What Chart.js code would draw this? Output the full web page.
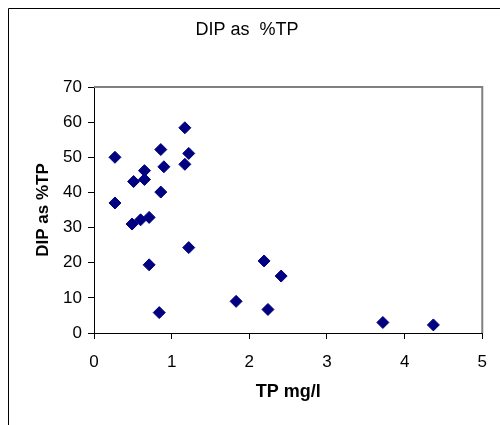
<!DOCTYPE html>
<html>
<head>
<meta charset="utf-8">
<script src="https://cdn.jsdelivr.net/npm/chart.js@4.4.1/dist/chart.umd.min.js"></script>
<style>
  body { margin: 0; background: #fff; }
  canvas { display: block; }
</style>
</head>
<body>
<canvas id="dip-chart" width="500" height="425"></canvas>
<script>
/* DIP as %TP vs TP — scatter */

const TP_MGL = [0.27, 0.27, 0.51, 0.65, 0.65, 0.49, 0.60, 0.71, 0.71, 0.86, 0.90, 0.86, 0.84,
                1.17, 1.22, 1.17, 1.22, 1.83, 2.19, 2.24, 2.41, 3.72, 4.37];
const DIP_PCT = [50.0, 37.0, 43.1, 46.2, 43.7, 31.0, 32.2, 32.9, 19.4, 52.2, 47.3, 40.1, 5.8,
                 58.4, 51.1, 48.0, 24.3, 9.0, 20.5, 6.7, 16.2, 3.0, 2.3];
const X_TICKS = [0, 1, 2, 3, 4, 5];
const Y_TICKS = [0, 10, 20, 30, 40, 50, 60, 70];

const FONT = "'Liberation Sans', Arial, sans-serif";

/* ---------- Frame plugin ---------- */

// outer chart border (runs off right/bottom edge) + grey plot box top/right
const framePlugin = {
    id: "frame",
    beforeDraw(chart) {
        const c = chart.ctx;
        c.save();
        c.strokeStyle = "#000";
        c.lineWidth = 1;
        c.beginPath();
        c.moveTo(8.5, chart.height + 5);
        c.lineTo(8.5, 8.5);
        c.lineTo(chart.width + 5, 8.5);
        c.stroke();
        c.restore();
    },
    afterDatasetsDraw(chart) {
        const a = chart.chartArea;
        const c = chart.ctx;
        c.save();
        c.strokeStyle = "#808080";
        c.lineWidth = 2;
        c.beginPath();
        c.moveTo(a.left, a.top);
        c.lineTo(a.right, a.top);
        c.lineTo(a.right, a.bottom);
        c.stroke();
        c.restore();
    }
};

const points = TP_MGL.map((x, i) => ({ x, y: DIP_PCT[i] }));

new Chart(document.getElementById("dip-chart"), {
    type: "scatter",
    data: {
        datasets: [{
            label: "DIP as %TP",
            data: points,
            pointStyle: "rectRot",
            pointRadius: 6,
            pointBackgroundColor: "#000080",
            pointBorderColor: "#000080",
            pointBorderWidth: 1,
        }]
    },
    options: {
        responsive: false,
        animation: false,
        layout: { padding: { left: 11, right: 17, top: 0, bottom: 0 } },
        plugins: {
            legend: { display: false },
            tooltip: { enabled: false },
            title: {
                display: true,
                text: "DIP as  %TP",
                color: "#000",
                font: { family: FONT, size: 18, weight: "normal" },
                padding: { top: 19.7, bottom: 45.7 }
            }
        },
        scales: {
            x: {
                type: "linear",
                min: X_TICKS[0],
                max: X_TICKS[X_TICKS.length - 1],
                afterBuildTicks: (s) => { s.ticks = X_TICKS.map(v => ({ value: v })); },
                afterFit: (s) => { s.height = 92; },
                grid: { drawOnChartArea: false, drawTicks: true, tickLength: 6, color: "#000" },
                border: { display: true, color: "#000", width: 1 },
                ticks: { color: "#000", padding: 13, maxRotation: 0, font: { family: FONT, size: 17 } },
                title: {
                    display: true,
                    text: "TP mg/l",
                    color: "#000",
                    font: { family: FONT, size: 18, weight: "bold" },
                    padding: { top: 0, bottom: 21.7 }
                }
            },
            y: {
                type: "linear",
                min: Y_TICKS[0],
                max: Y_TICKS[Y_TICKS.length - 1],
                afterBuildTicks: (s) => { s.ticks = Y_TICKS.map(v => ({ value: v })); },
                afterFit: (s) => { s.width = 83; },
                grid: { drawOnChartArea: false, drawTicks: true, tickLength: 6, color: "#000" },
                border: { display: true, color: "#000", width: 1 },
                ticks: { color: "#000", padding: 6, font: { family: FONT, size: 17 } },
                title: {
                    display: true,
                    text: "DIP as %TP",
                    color: "#000",
                    font: { family: FONT, size: 17, weight: "bold" },
                    padding: { top: 21.8, bottom: 0 }
                }
            }
        }
    },
    plugins: [framePlugin]
});
</script>
</body>
</html>
